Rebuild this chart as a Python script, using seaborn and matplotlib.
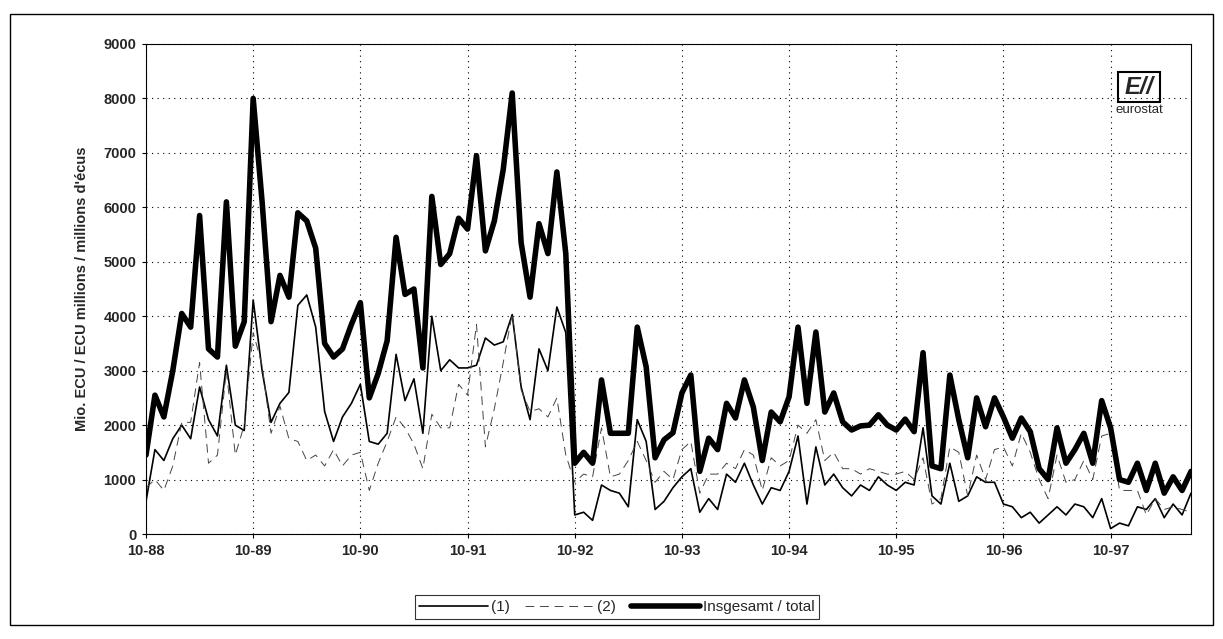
import numpy as np
import pandas as pd
import matplotlib
matplotlib.use("Agg")
import matplotlib.pyplot as plt
import seaborn as sns
from matplotlib.patches import Rectangle

# monthly values, 10-88 .. 07-98 (Mio. ECU)
total = [1450, 2550, 2150, 3000, 4050, 3800, 5850, 3400, 3250, 6100, 3450, 3900,
         8000, 6100, 3900, 4750, 4350, 5900, 5750, 5250, 3500, 3250, 3400, 3850,
         4250, 2500, 2950, 3550, 5450, 4400, 4500, 3050, 6200, 4950, 5150, 5800,
         5600, 6950, 5200, 5750, 6700, 8100, 5350, 4350, 5700, 5150, 6650, 5150,
         1300, 1500, 1300, 2830, 1850, 1850, 1850, 3800, 3070, 1400, 1730, 1860,
         2590, 2920, 1150, 1760, 1550, 2400, 2130, 2830, 2330, 1350, 2240, 2060,
         2520, 3800, 2400, 3710, 2240, 2590, 2060, 1910, 1985, 2000, 2190, 2000,
         1910, 2110, 1880, 3330, 1250, 1200, 2920, 2100, 1400, 2500, 1970, 2500,
         2150, 1760, 2130, 1880, 1200, 1000, 1950, 1300, 1550, 1850, 1300, 2450,
         1950, 1000, 950, 1300, 800, 1300, 750, 1050, 800, 1150]

series1 = [600, 1550, 1350, 1750, 2000, 1750, 2700, 2100, 1800, 3100, 2000, 1900,
           4300, 3000, 2050, 2400, 2600, 4200, 4390, 3800, 2250, 1700, 2150, 2400,
           2750, 1700, 1650, 1850, 3300, 2450, 2850, 1850, 4000, 3000, 3200, 3050,
           3050, 3100, 3600, 3470, 3530, 4030, 2700, 2100, 3400, 3000, 4170, 3700,
           350, 400, 250, 900, 800, 750, 500, 2100, 1700, 450, 600, 850,
           1050, 1200, 400, 650, 450, 1100, 950, 1300, 900, 550, 850, 800,
           1150, 1800, 550, 1600, 900, 1100, 850, 700, 900, 800, 1050, 900,
           800, 950, 900, 1950, 700, 550, 1300, 600, 700, 1050, 950, 950,
           550, 500, 300, 400, 200, 350, 500, 350, 550, 500, 300, 650,
           100, 200, 150, 500, 450, 650, 300, 550, 350, 750]

series2 = [850, 1000, 800, 1250, 2050, 2050, 3150, 1300, 1450, 3000, 1450, 2000,
           3700, 3100, 1850, 2350, 1750, 1700, 1350, 1450, 1250, 1550, 1250, 1450,
           1500, 800, 1300, 1700, 2150, 1950, 1650, 1200, 2200, 1950, 1950, 2750,
           2550, 3850, 1600, 2300, 3150, 4050, 2650, 2250, 2300, 2150, 2500, 1450,
           950, 1100, 1050, 1950, 1050, 1100, 1350, 1700, 1350, 950, 1150, 1000,
           1550, 1700, 750, 1100, 1100, 1300, 1200, 1550, 1450, 800, 1400, 1250,
           1350, 2000, 1850, 2100, 1350, 1500, 1200, 1200, 1100, 1200, 1150, 1100,
           1100, 1150, 1000, 1400, 550, 650, 1600, 1500, 700, 1450, 1000, 1550,
           1600, 1250, 1850, 1500, 1000, 650, 1450, 950, 1000, 1350, 1000, 1800,
           1850, 800, 800, 800, 350, 650, 450, 500, 450, 400]

tick_labels = ["10-88", "10-89", "10-90", "10-91", "10-92",
               "10-93", "10-94", "10-95", "10-96", "10-97"]

df = pd.DataFrame({"month": np.arange(len(total)), "s1": series1,
                   "s2": series2, "total": total})

sns.set_style("white")
plt.rcParams['font.family'] = ['Liberation Sans', 'DejaVu Sans']

fig = plt.figure(figsize=(12.23, 6.39), dpi=100)
ax = fig.add_axes([146 / 1223, 1 - 534 / 639, (1191 - 146) / 1223, (534 - 44) / 639])

sns.lineplot(data=df, x="month", y="s1", ax=ax, color="black", lw=1.2, label="(1)")
sns.lineplot(data=df, x="month", y="s2", ax=ax, color="#444444", lw=0.7,
             dashes=False, label="(2)")
ax.lines[-1].set_linestyle((0, (9, 6)))
sns.lineplot(data=df, x="month", y="total", ax=ax, color="black", lw=4.0,
             label="Insgesamt / total")

ax.set_xlim(0, len(total) - 1)
ax.set_ylim(0, 9000)
ax.set_yticks(np.arange(0, 9001, 1000))
ax.set_xticks(np.arange(0, 12 * len(tick_labels), 12))
ax.set_xticklabels(tick_labels)
ax.grid(True, color="black", linestyle=(0, (1, 4)), lw=0.8)
for lab in ax.get_xticklabels() + ax.get_yticklabels():
    lab.set_fontweight("bold")
    lab.set_fontsize(10.5)
ax.tick_params(axis="both", length=3, width=0.8, color="black", direction="out",
               bottom=True, left=True, pad=4)
ax.set_xlabel("")
ax.set_ylabel("Mio. ECU / ECU millions / millions d'écus", fontsize=10.5,
              fontweight="bold", labelpad=10)
for sp in ax.spines.values():
    sp.set_color("black")
    sp.set_linewidth(0.8)

leg = ax.legend(loc="center", bbox_to_anchor=(617 / 1223, 1 - 607 / 639),
                bbox_transform=fig.transFigure, ncol=3, frameon=True,
                fancybox=False, fontsize=11, handlelength=4.5,
                handletextpad=0.2, columnspacing=1.0, borderpad=0.3)
leg.get_frame().set_edgecolor("black")
leg.get_frame().set_linewidth(0.8)

# eurostat logo (approximation)
logo_box = Rectangle((1118 / 1223, 1 - 102 / 639), 42 / 1223, 30 / 639,
                     transform=fig.transFigure, fill=False, edgecolor="black", lw=1.5)
fig.patches.append(logo_box)
fig.text(1139 / 1223, 1 - 87 / 639, "E//", ha="center", va="center",
         fontsize=17, fontweight="bold", fontstyle="italic")
fig.text(1139 / 1223, 1 - 110 / 639, "eurostat", ha="center", va="center",
         fontsize=9.5)

# outer frame
frame = Rectangle((10 / 1223, 1 - 625 / 639), 1203 / 1223, 611 / 639,
                  transform=fig.transFigure, fill=False, edgecolor="black", lw=1.0)
fig.patches.append(frame)

fig.savefig("out.png", dpi=100, facecolor="white")
